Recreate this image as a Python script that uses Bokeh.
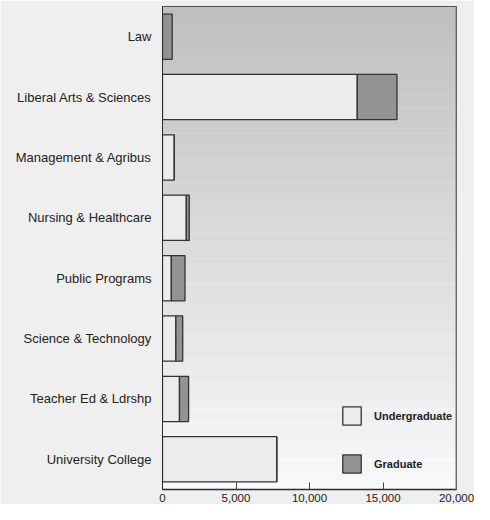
import numpy as np
from bokeh.plotting import figure
from bokeh.models import FactorRange, Range1d, FixedTicker, NumeralTickFormatter, Legend, Span
from bokeh.embed import file_html
from bokeh.resources import INLINE

colleges = ["Law", "Liberal Arts & Sciences", "Management & Agribus", "Nursing & Healthcare",
            "Public Programs", "Science & Technology", "Teacher Ed & Ldrshp", "University College"]
undergraduate = [0, 13250, 800, 1620, 600, 910, 1155, 7775]
graduate = [660, 2700, 0, 200, 930, 465, 620, 0]
x_ticks = [0, 5000, 10000, 15000, 20000]

FONT = "Liberation Sans"

factors = list(reversed(colleges))
p = figure(width=474, height=504, output_backend="svg", toolbar_location=None,
           y_range=FactorRange(factors=factors, range_padding=0),
           x_range=Range1d(0, 20000),
           min_border_left=162, min_border_right=18, min_border_top=6, min_border_bottom=10)

p.background_fill_color = None
p.border_fill_color = "#efefef"
p.outline_line_color = "#2b2b2b"
p.outline_line_width = 1

# gradient background (decorative)
n = 480
rows = np.arange(n)
frac = rows / (n - 1)  # 0 bottom .. 1 top
base = 248 - frac * 58
stripe = ((n - 1 - rows) % 12.5 < 1.0) * 6.0
g = np.clip(base + stripe, 0, 255)
img = np.zeros((n, 1, 4), dtype=np.uint8)
img[:, 0, 0] = g
img[:, 0, 1] = np.clip(g + 1, 0, 255)
img[:, 0, 2] = np.clip(g + 2, 0, 255)
img[:, 0, 3] = 255
rgba = img.view(dtype=np.uint32).reshape((n, 1))
p.image_rgba(image=[rgba], x=0, y=0, dw=20000, dh=len(colleges))

data = dict(college=colleges, Undergraduate=undergraduate, Graduate=graduate)
rs = p.hbar_stack(["Undergraduate", "Graduate"], y="college", height=0.75, source=data,
                  color=["#ececee", "#939396"], line_color="#333333", line_width=1.3)

p.add_layout(Span(location=20000, dimension="height", line_color="#7a7a7a", line_width=2))

legend = Legend(items=[("Undergraduate", [rs[0]]), ("Graduate", [rs[1]])],
                location=(178, 14), orientation="vertical",
                glyph_width=23, glyph_height=23, spacing=25, label_standoff=11,
                padding=0, margin=0, border_line_color=None, background_fill_alpha=0,
                label_text_font=FONT, label_text_font_style="bold",
                label_text_font_size="11px", label_text_color="#222222")
p.add_layout(legend, "center")

p.grid.visible = False

p.xaxis.ticker = FixedTicker(ticks=x_ticks)
p.xaxis.formatter = NumeralTickFormatter(format="0,0")
p.xaxis.major_tick_in = 7
p.xaxis.major_tick_out = 0
p.xaxis.minor_tick_line_color = None
p.xaxis.major_tick_line_color = "#444444"
p.xaxis.axis_line_color = "#2b2b2b"
p.xaxis.axis_line_width = 1.5
p.xaxis.major_label_text_font = FONT
p.xaxis.major_label_text_font_size = "11.5px"
p.xaxis.major_label_text_color = "#222222"
p.xaxis.major_label_standoff = 4

p.yaxis.major_tick_line_color = None
p.yaxis.minor_tick_line_color = None
p.yaxis.axis_line_color = "#2b2b2b"
p.yaxis.major_label_text_font = FONT
p.yaxis.major_label_text_font_size = "13px"
p.yaxis.major_label_text_color = "#222222"
p.yaxis.major_label_standoff = 5

open("out.html", "w").write(file_html(p, INLINE))
